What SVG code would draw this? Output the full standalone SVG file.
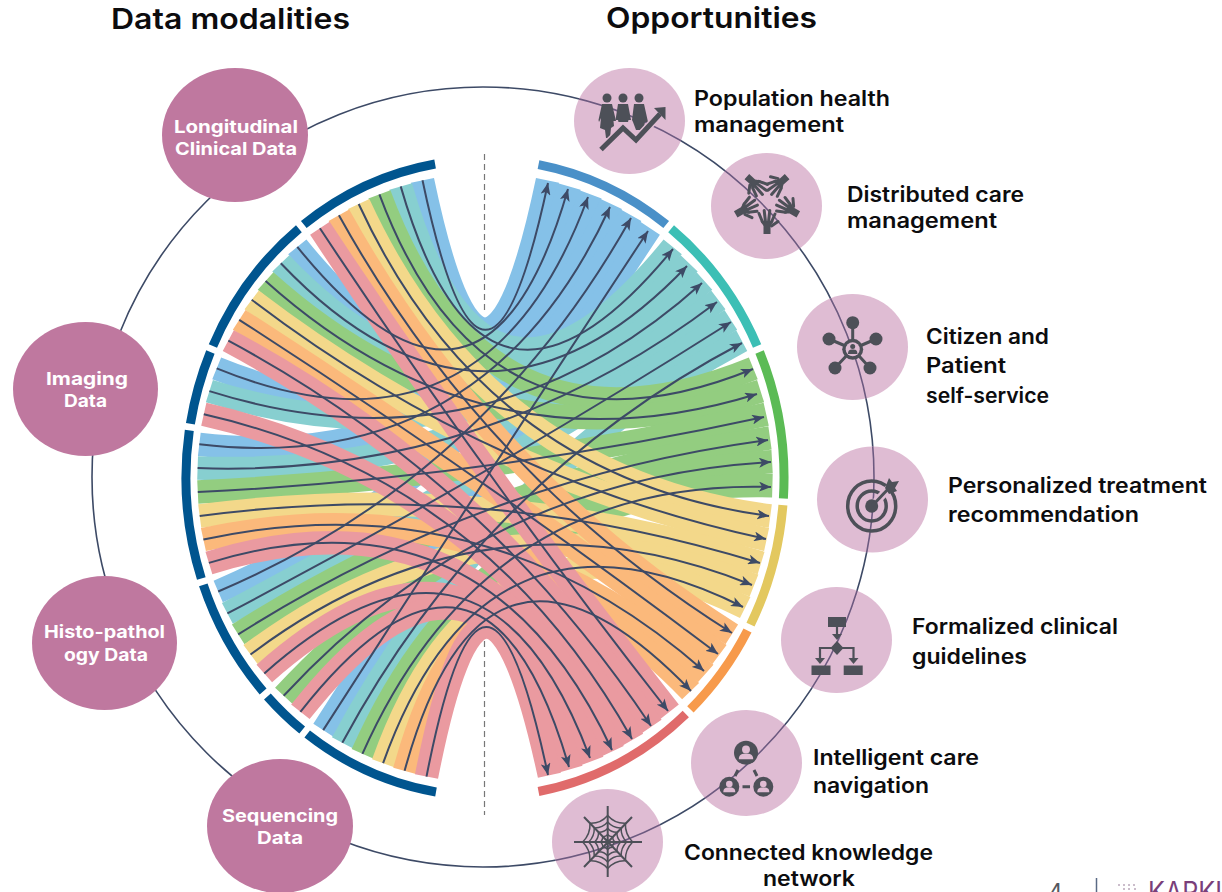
<svg xmlns="http://www.w3.org/2000/svg" width="1222" height="892" viewBox="0 0 1222 892">
<style>
text{font-family:"Inter","Noto Sans","Liberation Sans",sans-serif;font-weight:600;fill:#0c0c0e}
.h{font-size:29px;font-weight:600}
.l{font-size:21px}
.w{font-size:17.5px;font-weight:700;fill:#fff}
.m{fill:#bf789f}
.v{fill:#dfbcd3}
.bd{fill:none;stroke-width:9}
.ln{fill:none;stroke:#3d4a66;stroke-width:2;marker-end:url(#ah)}
#ribbons path{fill:none;stroke-width:23.5}
.b{stroke:#85c1e8}.t{stroke:#87cfd0}.g{stroke:#93cd80}.y{stroke:#f3d88a}.o{stroke:#fbb97b}.p{stroke:#ea9aa0}
.ic{fill:#4d5058}
.is{fill:none;stroke:#4d5058}
.web{fill:none;stroke:#4d5058;stroke-width:1.5;vector-effect:non-scaling-stroke}
</style>
<defs>
<marker id="ah" markerUnits="userSpaceOnUse" viewBox="0 0 12 10" markerWidth="12" markerHeight="10" refX="12" refY="5" orient="auto"><path d="M0 0L12 5L0 10L3 5Z" fill="#3d4a66"/></marker>
<clipPath id="lav">
<ellipse cx="629.5" cy="121" rx="55.5" ry="53"/><ellipse cx="766.5" cy="206" rx="55.5" ry="53"/><ellipse cx="852.5" cy="347" rx="55.5" ry="53"/><ellipse cx="872.5" cy="499.5" rx="55.5" ry="53"/><ellipse cx="836.5" cy="640" rx="55.5" ry="53"/><ellipse cx="746.5" cy="763" rx="55.5" ry="53"/><ellipse cx="607.5" cy="842" rx="55.5" ry="53"/>
</clipPath>
<g id="hand"><path class="ic" d="M-3.500 1H3.500V-7L6.500-12L-6.500-12L-3.500-7Z"/><path d="M-4.500-11L-8-19.500M-1.600-12L-2.800-22.500M1.600-12L2.800-22.500M4.500-11L8-19M4.500-7L11-11.500" fill="none" stroke="#4d5058" stroke-width="3" stroke-linecap="round"/></g>
<g id="pers"><circle r="10" class="ic"/><circle cy="-2.600" r="3.300" class="v"/><path d="M-6 5.500C-6 1-3 .8 0 .8S6 1 6 5.500Z" class="v"/></g>
<path id="wb" d="M10 0Q6.900 2.870 7.070 7.070Q2.870 6.900 0 10Q-2.870 6.900-7.070 7.070Q-6.900 2.870-10 0Q-6.900-2.870-7.070-7.070Q-2.870-6.900 0-10Q2.870-6.900 7.070-7.070Q6.900-2.870 10 0Z" class="web"/>
</defs>

<g id="ring"><ellipse cx="483" cy="477" rx="391" ry="390" fill="none" stroke="#3d4a66" stroke-width="1.6"/></g>

<g id="axis" fill="none" stroke="#777" stroke-width="1.200" stroke-dasharray="6 4"><path d="M484.500 154V314"/><path d="M484.500 641V815"/></g>

<g id="bands">
<g class="bd" stroke="#00558f">
<path d="M435.100 164A299 318.500 0 0 0 303.800 224.600"/>
<path d="M298.900 228.700A299 318.500 0 0 0 212.900 345.900"/>
<path d="M210.400 352A299 318.500 0 0 0 190.400 423.800"/>
<path d="M189.300 430.400A299 318.500 0 0 0 201.300 578.500"/>
<path d="M203.300 584.900A299 318.500 0 0 0 263.100 691.500"/>
<path d="M267.400 696.400A299 318.500 0 0 0 302.200 730"/>
<path d="M307.200 734A299 318.500 0 0 0 436 792"/>
</g>
<path class="bd" stroke="#4a90c8" d="M538.500 164.600A299 318.500 0 0 1 666.200 224.600"/>
<path class="bd" stroke="#3cbfb5" d="M671.100 228.700A299 318.500 0 0 1 757.100 345.900"/>
<path class="bd" stroke="#5bbb55" d="M759.600 352A299 318.500 0 0 1 783.400 498.500"/>
<path class="bd" stroke="#e3c85f" d="M782.900 505.200A299 318.500 0 0 1 750.500 624.600"/>
<path class="bd" stroke="#f79a4b" d="M747.500 630.500A299 318.500 0 0 1 690.400 709.400"/>
<path class="bd" stroke="#e06b6b" d="M685.800 713.900A299 318.500 0 0 1 538.500 791.500"/>
</g>

<g id="connectors">
<g id="ribbons">
<g class="b">
<path d="M422.500 180.300Q485 478 547.500 180.300"/>
<path d="M297.300 246.900Q485 478 569.300 186.400"/>
<path d="M216.700 368.400Q485 478 590.600 194.300"/>
<path d="M199.300 444.300Q485 478 611.300 204"/>
<path d="M218.200 591.500Q485 478 631.100 215.300"/>
<path d="M323.200 730.100Q485 478 650.100 228.300"/>
</g>
<g class="t">
<path d="M400.700 186.400Q485 478 672.700 246.900"/>
<path d="M280.800 263.300Q485 478 689.200 263.300"/>
<path d="M209.400 391.100Q485 478 704.400 280.900"/>
<path d="M197.600 468.100Q485 478 718.300 299.800"/>
<path d="M227.400 613.400Q485 478 730.800 319.800"/>
<path d="M342.300 742.800Q485 478 741.700 340.700"/>
</g>
<g class="g">
<path d="M379.400 194.300Q485 478 753.300 368.400"/>
<path d="M265.600 280.900Q485 478 760.600 391.100"/>
<path d="M197.800 492.100Q485 478 766.200 414.300"/>
<path d="M238.200 634.400Q485 478 770 437.900"/>
<path d="M283.700 695.800Q485 478 772.100 461.800"/>
<path d="M362.400 753.800Q485 478 772.400 485.700"/>
</g>
<g class="y">
<path d="M358.700 204Q485 478 770.300 516"/>
<path d="M251.700 299.800Q485 478 766.600 539.600"/>
<path d="M199.700 516Q485 478 761.100 562.900"/>
<path d="M250.500 654.500Q485 478 754 585.500"/>
<path d="M383.100 763.200Q485 478 745.200 607.600"/>
</g>
<g class="o">
<path d="M338.900 215.300Q485 478 731.800 634.400"/>
<path d="M239.200 319.800Q485 478 719.500 654.500"/>
<path d="M203.400 539.600Q485 478 705.700 673.500"/>
<path d="M404.600 770.800Q485 478 690.600 691.200"/>
</g>
<g class="p">
<path d="M319.900 228.300Q485 478 669.600 711.800"/>
<path d="M228.300 340.700Q485 478 651.800 726.400"/>
<path d="M203.800 414.300Q485 478 632.900 739.600"/>
<path d="M208.900 562.900Q485 478 613.100 751.100"/>
<path d="M264.300 673.500Q485 478 592.400 760.900"/>
<path d="M300.400 711.800Q485 478 571.200 769"/>
<path d="M426.500 776.600Q485 478 549.400 775.300"/>
</g>
</g>
<g id="lines">
<path class="ln" d="M422.500 180.300Q485 478 548 183"/>
<path class="ln" d="M297.300 246.900Q485 478 568 189"/>
<path class="ln" d="M216.700 368.400Q485 478 588 197"/>
<path class="ln" d="M199.300 444.300Q485 478 610 207"/>
<path class="ln" d="M218.200 591.500Q485 478 631 218"/>
<path class="ln" d="M323.200 730.100Q485 478 648 231"/>
<path class="ln" d="M400.700 186.400Q485 478 673 249"/>
<path class="ln" d="M280.800 263.300Q485 478 687 266"/>
<path class="ln" d="M209.400 391.100Q485 478 702 283"/>
<path class="ln" d="M197.600 468.100Q485 478 717 302"/>
<path class="ln" d="M227.400 613.400Q485 478 731 322"/>
<path class="ln" d="M342.300 742.800Q485 478 742 343"/>
<path class="ln" d="M379.400 194.300Q485 478 753 369"/>
<path class="ln" d="M265.600 280.900Q485 478 757 394"/>
<path class="ln" d="M197.800 492.100Q485 478 764 417"/>
<path class="ln" d="M238.200 634.400Q485 478 768 440"/>
<path class="ln" d="M283.700 695.800Q485 478 771 462"/>
<path class="ln" d="M362.400 753.800Q485 478 771 487"/>
<path class="ln" d="M358.700 204Q485 478 769 516"/>
<path class="ln" d="M251.700 299.800Q485 478 766 539"/>
<path class="ln" d="M199.700 516Q485 478 760 563"/>
<path class="ln" d="M250.500 654.500Q485 478 752 585"/>
<path class="ln" d="M383.100 763.200Q485 478 743 607"/>
<path class="ln" d="M338.900 215.300Q485 478 732 633"/>
<path class="ln" d="M239.200 319.800Q485 478 718 654"/>
<path class="ln" d="M203.400 539.600Q485 478 704 671"/>
<path class="ln" d="M404.600 770.800Q485 478 691 691"/>
<path class="ln" d="M319.900 228.300Q485 478 668 711"/>
<path class="ln" d="M228.300 340.700Q485 478 651 726"/>
<path class="ln" d="M203.800 414.300Q485 478 632 739"/>
<path class="ln" d="M208.900 562.900Q485 478 612 750"/>
<path class="ln" d="M264.300 673.500Q485 478 590 758"/>
<path class="ln" d="M300.400 711.800Q485 478 569 767"/>
<path class="ln" d="M426.500 776.600Q485 478 548 775"/>
</g>
</g>

<g id="headers">
<text class="h" x="111" y="29" textLength="239" lengthAdjust="spacingAndGlyphs">Data modalities</text>
<text class="h" x="606" y="28" textLength="211" lengthAdjust="spacingAndGlyphs">Opportunities</text>
</g>

<g id="node-longitudinal"><ellipse class="m" cx="235" cy="135" rx="73" ry="67"/><text class="w" x="174" y="133" textLength="124" lengthAdjust="spacingAndGlyphs">Longitudinal</text><text class="w" x="175" y="155" textLength="122" lengthAdjust="spacingAndGlyphs">Clinical Data</text></g>
<g id="node-imaging"><ellipse class="m" cx="85.500" cy="389" rx="72.500" ry="67"/><text class="w" x="46" y="385" textLength="82" lengthAdjust="spacingAndGlyphs">Imaging</text><text class="w" x="64" y="407" textLength="43" lengthAdjust="spacingAndGlyphs">Data</text></g>
<g id="node-histo"><ellipse class="m" cx="104.500" cy="643" rx="72.500" ry="67"/><text class="w" x="44" y="638" textLength="121" lengthAdjust="spacingAndGlyphs">Histo-pathol</text><text class="w" x="64" y="661" textLength="84" lengthAdjust="spacingAndGlyphs">ogy Data</text></g>
<g id="node-sequencing"><ellipse class="m" cx="280" cy="826" rx="73" ry="67"/><text class="w" x="222" y="822" textLength="116" lengthAdjust="spacingAndGlyphs">Sequencing</text><text class="w" x="257" y="844" textLength="46" lengthAdjust="spacingAndGlyphs">Data</text></g>

<g id="lavender-discs">
<ellipse class="v" cx="629.500" cy="121" rx="55.500" ry="53"/><ellipse class="v" cx="766.500" cy="206" rx="55.500" ry="53"/><ellipse class="v" cx="852.500" cy="347" rx="55.500" ry="53"/><ellipse class="v" cx="872.500" cy="499.500" rx="55.500" ry="53"/><ellipse class="v" cx="836.500" cy="640" rx="55.500" ry="53"/><ellipse class="v" cx="746.500" cy="763" rx="55.500" ry="53"/><ellipse class="v" cx="607.500" cy="842" rx="55.500" ry="53"/>
<ellipse cx="483" cy="477" rx="391" ry="390" fill="none" stroke="#6d5a80" stroke-width="1.600" clip-path="url(#lav)"/>
</g>

<g id="node-population">
<g class="ic"><circle cx="607" cy="98" r="4.500"/><circle cx="623" cy="98" r="4.500"/><circle cx="639" cy="98" r="4.500"/>
<path d="M602 104H612L616 121H613.500L614 126L611 128L610 138H606L605 130L600 128L601 118L599 122L598.500 120Z"/>
<path d="M618 104H628L631 120H628.500L628 122H618.500L618 120H615.500Z"/>
<path d="M634 104H644L648 122H645L644 128L641 130H636L633 122L632 120Z"/></g>
<path d="M601 149.500L623 128L636 140L660 114" fill="none" stroke="#dfbcd3" stroke-width="8"/>
<path d="M601 149.500L623 128L636 140L660 114" fill="none" stroke="#4d5058" stroke-width="5"/>
<path class="ic" d="M654 108L665.500 107L665.500 120Z"/>
<text class="l" x="694" y="106" textLength="196" lengthAdjust="spacingAndGlyphs">Population health</text><text class="l" x="694" y="132" textLength="150" lengthAdjust="spacingAndGlyphs">management</text></g>

<g id="node-distributed">
<use href="#hand" transform="translate(767 204) rotate(0) translate(0 29)"/>
<use href="#hand" transform="translate(767 204) rotate(72) translate(0 32) rotate(-12)"/>
<use href="#hand" transform="translate(767 204) rotate(144) translate(0 33) rotate(-12)"/>
<use href="#hand" transform="translate(767 204) rotate(216) translate(0 33) rotate(12)"/>
<use href="#hand" transform="translate(767 204) rotate(288) translate(0 32) rotate(12)"/>
<text class="l" x="847" y="202" textLength="177" lengthAdjust="spacingAndGlyphs">Distributed care</text><text class="l" x="847" y="228" textLength="150" lengthAdjust="spacingAndGlyphs">management</text></g>

<g id="node-citizen">
<path class="is" stroke-width="3" d="M852.700 349L852.700 323M852.700 349L829 339M852.700 349L876 339M852.700 349L835 368M852.700 349L870 368"/>
<g class="ic"><circle cx="852.700" cy="322.700" r="6.500"/><circle cx="829" cy="339" r="6.500"/><circle cx="876" cy="339" r="6.500"/><circle cx="835" cy="368" r="6.500"/><circle cx="870" cy="368" r="6.500"/><circle cx="852.700" cy="349.300" r="10.500"/></g>
<circle class="v" cx="852.700" cy="349.300" r="7"/><circle class="ic" cx="852.700" cy="346.500" r="2.500"/><path class="ic" d="M848 354C848 350 850 349.500 852.700 349.500S857.400 350 857.400 354Z"/>
<text class="l" x="926" y="344" textLength="123" lengthAdjust="spacingAndGlyphs">Citizen and</text><text class="l" x="926" y="373" textLength="80" lengthAdjust="spacingAndGlyphs">Patient</text><text class="l" x="926" y="403" textLength="123" lengthAdjust="spacingAndGlyphs">self-service</text></g>

<g id="node-personalized">
<ellipse class="is" stroke-width="3.500" cx="871.700" cy="506" rx="24" ry="25"/>
<ellipse class="is" stroke-width="3.500" cx="871.700" cy="506" rx="14.500" ry="15"/>
<path d="M872 506L893 484" fill="none" stroke="#dfbcd3" stroke-width="8"/>
<ellipse class="ic" cx="871.700" cy="506" rx="6.500" ry="6.800"/>
<path d="M872 506L890 487" fill="none" stroke="#4d5058" stroke-width="3"/>
<path class="ic" d="M885 488L889 478L892 482L899 481L895 488L897 491L889 494Z"/>
<text class="l" x="948" y="493" textLength="259" lengthAdjust="spacingAndGlyphs">Personalized treatment</text><text class="l" x="948" y="522" textLength="191" lengthAdjust="spacingAndGlyphs">recommendation</text></g>

<g id="node-formalized">
<g class="ic"><rect x="828" y="617" width="18" height="10"/><rect x="811.500" y="665.500" width="19" height="9.500"/><rect x="843.700" y="665.500" width="19" height="9.500"/><path d="M837 641L843.500 648L837 655L830.500 648Z"/><path d="M832 634L842 634L837 640Z"/><path d="M815 658L825 658L820 664Z"/><path d="M848.500 658L858.500 658L853.500 664Z"/></g>
<path class="is" stroke-width="2.200" d="M837 627V636M820 660V648H853.500V660"/>
<text class="l" x="912" y="634" textLength="206" lengthAdjust="spacingAndGlyphs">Formalized clinical</text><text class="l" x="912" y="664" textLength="115" lengthAdjust="spacingAndGlyphs">guidelines</text></g>

<g id="node-intelligent">
<use href="#pers" transform="translate(746 752.700) scale(1.200)"/>
<use href="#pers" transform="translate(729.300 786.700)"/>
<use href="#pers" transform="translate(763.300 786.700)"/>
<path class="is" stroke-width="3" d="M738 770L735 776M754 770L757 776M742.500 786.700H750"/>
<text class="l" x="813" y="765" textLength="166" lengthAdjust="spacingAndGlyphs">Intelligent care</text><text class="l" x="813" y="793" textLength="116" lengthAdjust="spacingAndGlyphs">navigation</text></g>

<g id="node-connected">
<path class="is" stroke-width="2" d="M574 842H642M607.700 806V877M584 817L632 867M632 817L584 867"/>
<use href="#wb" transform="translate(607.700 842) scale(.7 .74)"/>
<use href="#wb" transform="translate(607.700 842) scale(1.300 1.380)"/>
<use href="#wb" transform="translate(607.700 842) scale(1.900 2)"/>
<use href="#wb" transform="translate(607.700 842) scale(2.500 2.650)"/>
<text class="l" x="684" y="860" textLength="249" lengthAdjust="spacingAndGlyphs">Connected knowledge</text><text class="l" x="763" y="886" textLength="92" lengthAdjust="spacingAndGlyphs">network</text></g>

<g id="footer">
<text x="1048" y="900" font-size="23" style="font-weight:400;fill:#55585f">4</text>
<path d="M1096.500 878V892" stroke="#5a6a85" stroke-width="1.500"/>
<g fill="#8a6a8a"><circle cx="1119" cy="885" r=".8"/><circle cx="1124" cy="885" r=".8"/><circle cx="1129" cy="885" r=".8"/><circle cx="1134" cy="885" r=".8"/><circle cx="1124" cy="889" r=".8"/><circle cx="1129" cy="889" r=".8"/><circle cx="1135" cy="889" r=".8"/></g>
<text x="1148" y="902" font-size="28" style="font-weight:400;fill:#7a3f7a" textLength="74" lengthAdjust="spacingAndGlyphs">KARKI</text>
</g>
</svg>
